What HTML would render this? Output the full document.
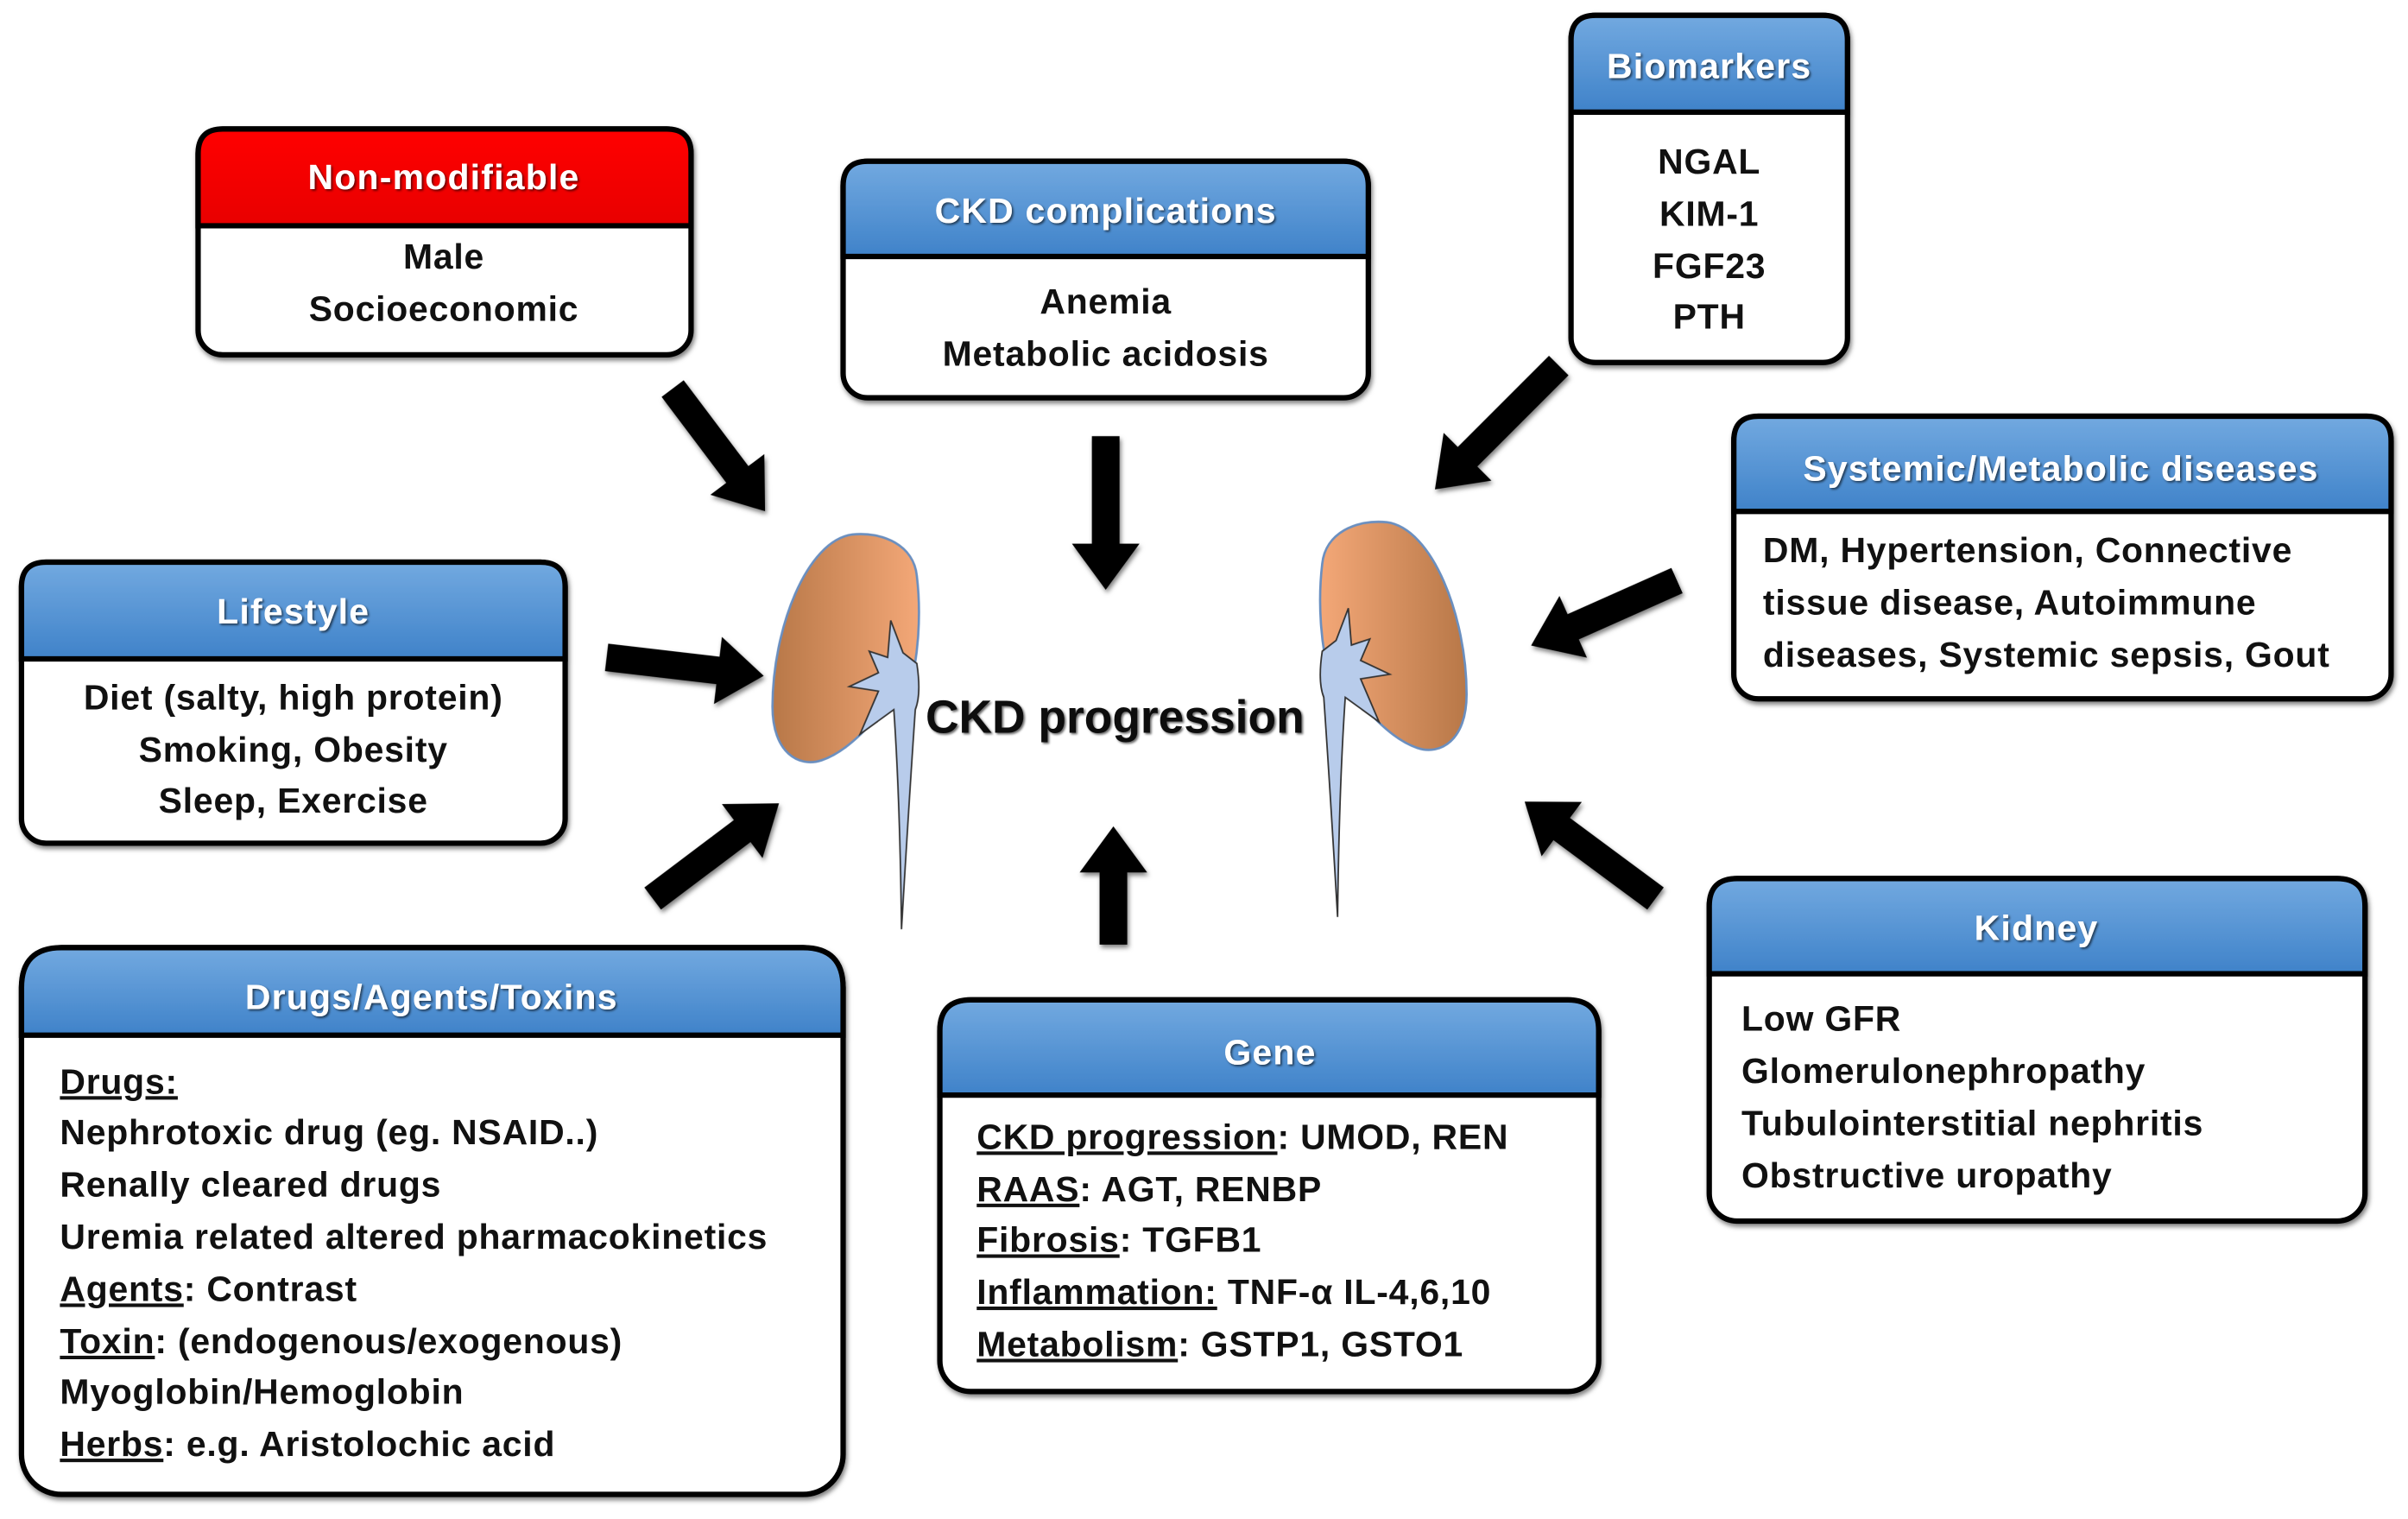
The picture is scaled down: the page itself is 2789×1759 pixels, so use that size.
<!DOCTYPE html>
<html><head><meta charset="utf-8"><style>
html,body{margin:0;padding:0;background:#fff;}
svg{display:block;}
text{font-family:"Liberation Sans",sans-serif;font-weight:bold;font-size:23px;letter-spacing:0.45px;fill:#111;}
.t{fill:#fff;font-size:23px;letter-spacing:0.7px;}
.u{text-decoration:underline;}
</style></head><body>
<svg width="2789" height="1759" viewBox="0 0 1568 989" preserveAspectRatio="none" xmlns="http://www.w3.org/2000/svg">
<defs>
<linearGradient id="bl" x1="0" y1="0" x2="0" y2="1"><stop offset="0" stop-color="#72a9e0"/><stop offset="1" stop-color="#3f82c9"/></linearGradient>
<linearGradient id="rd" x1="0" y1="0" x2="0" y2="1"><stop offset="0" stop-color="#ff0000"/><stop offset="1" stop-color="#e80000"/></linearGradient>
<linearGradient id="kd" x1="0" y1="0" x2="1" y2="0"><stop offset="0" stop-color="#b87848"/><stop offset="1" stop-color="#f4a878"/></linearGradient>
<filter id="sh" x="-20%" y="-20%" width="140%" height="140%"><feDropShadow dx="1" dy="2" stdDeviation="1.5" flood-color="#000" flood-opacity="0.5"/></filter>
<filter id="ts"><feDropShadow dx="1" dy="1" stdDeviation="0.8" flood-color="#000" flood-opacity="0.6"/></filter>
</defs>

<g stroke="#000" stroke-width="3.5" filter="url(#sh)">
 <rect x="129" y="84" width="321" height="147" rx="16" fill="#fff"/>
 <path d="M129,147 V100 Q129,84 145,84 H434 Q450,84 450,100 V147 Z" fill="url(#rd)"/>
 <rect x="549" y="105" width="342" height="154" rx="16" fill="#fff"/>
 <path d="M549,167 V121 Q549,105 565,105 H875 Q891,105 891,121 V167 Z" fill="url(#bl)"/>
 <rect x="1023" y="10" width="180" height="226" rx="16" fill="#fff"/>
 <path d="M1023,73 V26 Q1023,10 1039,10 H1187 Q1203,10 1203,26 V73 Z" fill="url(#bl)"/>
 <rect x="1129" y="271" width="428" height="184" rx="16" fill="#fff"/>
 <path d="M1129,333 V287 Q1129,271 1145,271 H1541 Q1557,271 1557,287 V333 Z" fill="url(#bl)"/>
 <rect x="14" y="366" width="354" height="183" rx="16" fill="#fff"/>
 <path d="M14,429 V382 Q14,366 30,366 H352 Q368,366 368,382 V429 Z" fill="url(#bl)"/>
 <rect x="14" y="617" width="535" height="356" rx="26" fill="#fff"/>
 <path d="M14,674 V643 Q14,617 40,617 H523 Q549,617 549,643 V674 Z" fill="url(#bl)"/>
 <rect x="612" y="651" width="429" height="255" rx="20" fill="#fff"/>
 <path d="M612,713 V671 Q612,651 632,651 H1021 Q1041,651 1041,671 V713 Z" fill="url(#bl)"/>
 <rect x="1113" y="572" width="427" height="223" rx="18" fill="#fff"/>
 <path d="M1113,634 V590 Q1113,572 1131,572 H1522 Q1540,572 1540,590 V634 Z" fill="url(#bl)"/>
</g>

<g text-anchor="middle" filter="url(#ts)">
 <text class="t" x="289" y="123">Non-modifiable</text>
 <text class="t" x="720" y="145">CKD complications</text>
 <text class="t" x="1113" y="51">Biomarkers</text>
 <text class="t" x="1342" y="313">Systemic/Metabolic diseases</text>
 <text class="t" x="191" y="406">Lifestyle</text>
 <text class="t" x="281" y="657">Drugs/Agents/Toxins</text>
 <text class="t" x="827" y="693">Gene</text>
 <text class="t" x="1326" y="612">Kidney</text>
</g>

<g text-anchor="middle">
 <text x="289" y="175">Male</text>
 <text x="289" y="209">Socioeconomic</text>
 <text x="720" y="204">Anemia</text>
 <text x="720" y="238">Metabolic acidosis</text>
 <text x="1113" y="113">NGAL</text>
 <text x="1113" y="147">KIM-1</text>
 <text x="1113" y="181">FGF23</text>
 <text x="1113" y="214">PTH</text>
 <text x="191" y="462">Diet (salty, high protein)</text>
 <text x="191" y="496">Smoking, Obesity</text>
 <text x="191" y="529">Sleep, Exercise</text>
</g>
<g>
 <text x="1148" y="366">DM, Hypertension, Connective</text>
 <text x="1148" y="400">tissue disease, Autoimmune</text>
 <text x="1148" y="434">diseases, Systemic sepsis, Gout</text>

 <text x="39" y="712"><tspan class="u">Drugs:</tspan></text>
 <text x="39" y="745">Nephrotoxic drug (eg. NSAID..)</text>
 <text x="39" y="779">Renally cleared drugs</text>
 <text x="39" y="813">Uremia related altered pharmacokinetics</text>
 <text x="39" y="847"><tspan class="u">Agents</tspan>: Contrast</text>
 <text x="39" y="881"><tspan class="u">Toxin</tspan>: (endogenous/exogenous)</text>
 <text x="39" y="914">Myoglobin/Hemoglobin</text>
 <text x="39" y="948"><tspan class="u">Herbs</tspan>: e.g. Aristolochic acid</text>

 <text x="636" y="748"><tspan class="u">CKD progression</tspan>: UMOD, REN</text>
 <text x="636" y="782"><tspan class="u">RAAS</tspan>: AGT, RENBP</text>
 <text x="636" y="815"><tspan class="u">Fibrosis</tspan>: TGFB1</text>
 <text x="636" y="849"><tspan class="u">Inflammation:</tspan> TNF-α IL-4,6,10</text>
 <text x="636" y="883"><tspan class="u">Metabolism</tspan>: GSTP1, GSTO1</text>

 <text x="1134" y="671">Low GFR</text>
 <text x="1134" y="705">Glomerulonephropathy</text>
 <text x="1134" y="739">Tubulointerstitial nephritis</text>
 <text x="1134" y="773">Obstructive uropathy</text>
</g>

<g fill="#000" filter="url(#sh)">
 <g transform="translate(438,253) rotate(53)"><path d="M0,-9 H70 V-22 L100,0 L70,22 V9 H0 Z"/></g>
 <g transform="translate(720,284) rotate(90)"><path d="M0,-9 H70 V-22 L100,0 L70,22 V9 H0 Z"/></g>
 <g transform="translate(1015,238) rotate(135)"><path d="M0,-9 H84 V-22 L114,0 L84,22 V9 H0 Z"/></g>
 <g transform="translate(1092,378) rotate(156)"><path d="M0,-9 H74 V-22 L104,0 L74,22 V9 H0 Z"/></g>
 <g transform="translate(395,428) rotate(6.7)"><path d="M0,-9 H73 V-22 L103,0 L73,22 V9 H0 Z"/></g>
 <g transform="translate(425,585) rotate(-37)"><path d="M0,-9 H73 V-22 L103,0 L73,22 V9 H0 Z"/></g>
 <g transform="translate(725,615) rotate(-90)"><path d="M0,-9 H47 V-22 L77,0 L47,22 V9 H0 Z"/></g>
 <g transform="translate(1078,585) rotate(216.5)"><path d="M0,-9 H76 V-22 L106,0 L76,22 V9 H0 Z"/></g>
</g>

<g>
 <path d="M555,348 C525,352 503,410 503,460 C503,490 520,500 535,495 C550,490 565,475 578,458 L592,450 C598,428 600,400 597,375 C595,355 575,346 555,348 Z" fill="url(#kd)" stroke="#6a8fc0" stroke-width="1.5"/>
 <path d="M597,432 L588,425 L580,404 L578,428 L566,424 L572,438 L553,447 L572,450 L560,478 L582,462 Q586,520 587,605 Q592,520 596,462 Q600,452 597,432 Z" fill="#b8cceb" stroke="#333" stroke-width="1"/>
</g>
<g transform="translate(1458,-8) scale(-1,1)">
 <path d="M555,348 C525,352 503,410 503,460 C503,490 520,500 535,495 C550,490 565,475 578,458 L592,450 C598,428 600,400 597,375 C595,355 575,346 555,348 Z" fill="url(#kd)" stroke="#6a8fc0" stroke-width="1.5"/>
 <path d="M597,432 L588,425 L580,404 L578,428 L566,424 L572,438 L553,447 L572,450 L560,478 L582,462 Q586,520 587,605 Q592,520 596,462 Q600,452 597,432 Z" fill="#b8cceb" stroke="#333" stroke-width="1"/>
</g>

<text x="726" y="477" text-anchor="middle" style="font-size:30px;letter-spacing:0" filter="url(#ts)">CKD progression</text>
</svg>
</body></html>
